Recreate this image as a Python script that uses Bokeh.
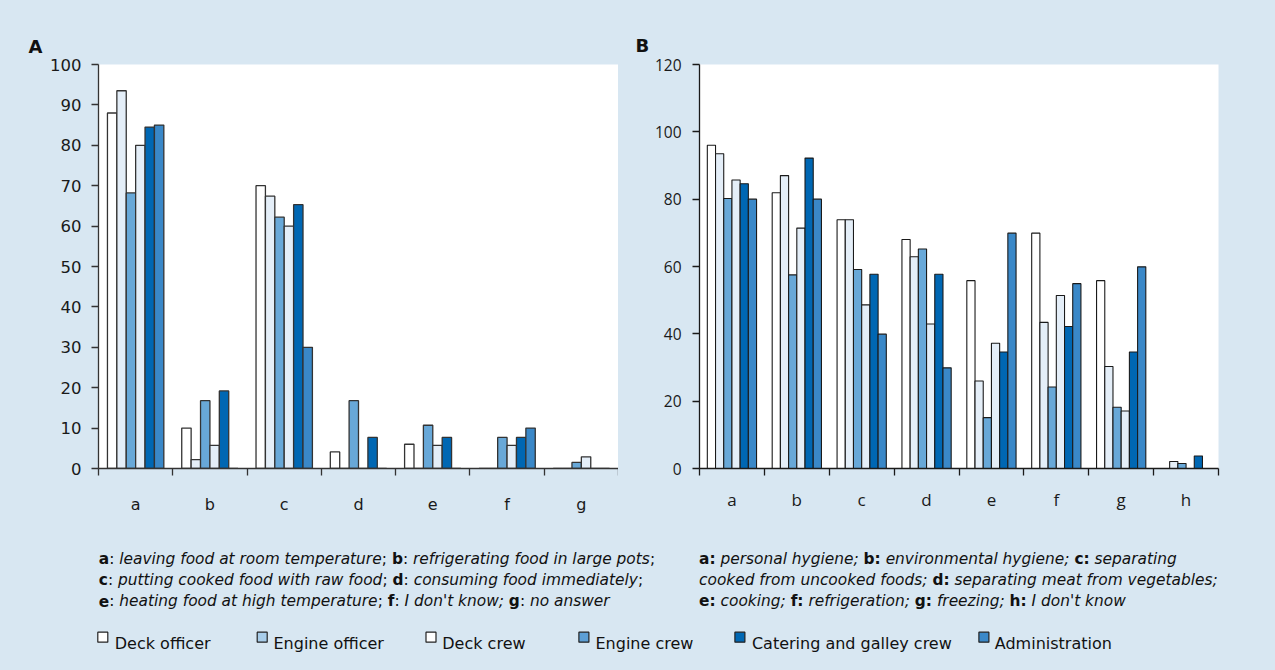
import glob
from bokeh.plotting import figure
from bokeh.layouts import row, column
from bokeh.models import ColumnDataSource, Range1d, FixedTicker
from bokeh.transform import dodge
from bokeh.core.properties import value
from bokeh.embed import file_html
from bokeh.resources import INLINE

# ---------------- data ----------------
series_names = ["Deck officer", "Engine officer", "Deck crew", "Engine crew",
                "Catering and galley crew", "Administration"]

cats_A = ["a", "b", "c", "d", "e", "f", "g"]
deck_officer_A = [88, 10, 70, 4.1, 6, 0, 0]
engine_officer_A = [93.5, 2.2, 67.4, 0, 0, 0, 0]
deck_crew_A = [68.2, 16.8, 62.2, 16.8, 10.7, 7.7, 1.5]
engine_crew_A = [80, 5.7, 60, 0, 5.7, 5.7, 2.9]
catering_A = [84.5, 19.2, 65.3, 7.7, 7.7, 7.7, 0]
admin_A = [85, 0, 30, 0, 0, 10, 0]

cats_B = ["a", "b", "c", "d", "e", "f", "g", "h"]
deck_officer_B = [96, 81.9, 73.9, 68, 55.8, 69.9, 55.8, 0]
engine_officer_B = [93.5, 87, 73.9, 62.9, 26, 43.4, 30.3, 2.1]
deck_crew_B = [80.2, 57.5, 59.1, 65.2, 15.1, 24.2, 18.2, 1.5]
engine_crew_B = [85.7, 71.4, 48.6, 42.9, 37.2, 51.4, 17.1, 0]
catering_B = [84.6, 92.2, 57.7, 57.7, 34.6, 42.2, 34.6, 3.7]
admin_B = [80, 80, 39.9, 29.9, 69.9, 54.9, 59.9, 0]

yticks_A = [0, 10, 20, 30, 40, 50, 60, 70, 80, 90, 100]
yticks_B = [0, 20, 40, 60, 80, 100, 120]

caption_A = [
    [("a", "bold"), (": ", "normal"), ("leaving food at room temperature", "italic"), ("; ", "normal"),
     ("b", "bold"), (": ", "normal"), ("refrigerating food in large pots", "italic"), (";", "normal")],
    [("c", "bold"), (": ", "normal"), ("putting cooked food with raw food", "italic"), ("; ", "normal"),
     ("d", "bold"), (": ", "normal"), ("consuming food immediately", "italic"), (";", "normal")],
    [("e", "bold"), (": ", "normal"), ("heating food at high temperature", "italic"), ("; ", "normal"),
     ("f", "bold"), (": ", "normal"), ("I don't know;", "italic"), (" ", "normal"),
     ("g", "bold"), (": ", "normal"), ("no answer", "italic")],
]
caption_B = [
    [("a:", "bold"), (" personal hygiene; ", "italic"), ("b:", "bold"), (" environmental hygiene; ", "italic"),
     ("c:", "bold"), (" separating", "italic")],
    [("cooked from uncooked foods; ", "italic"), ("d:", "bold"), (" separating meat from vegetables;", "italic")],
    [("e:", "bold"), (" cooking; ", "italic"), ("f:", "bold"), (" refrigeration; ", "italic"),
     ("g:", "bold"), (" freezing; ", "italic"), ("h:", "bold"), (" I don't know", "italic")],
]

# ---------------- style ----------------
BG = "#d8e7f2"
bar_colors = ["#ffffff", "#e4eef8", "#68a8d8", "#e4eef8", "#0067b3", "#3a88c8"]
legend_colors = ["#ffffff", "#a8cdea", "#ffffff", "#5d9fd5", "#0067b3", "#3a88c8"]
BW = 0.1265


def panel(cats, vals, yticks, width, bl, br, bt, bb, height, tick_font, tick_size,
          xlab_size, x_standoff, y_standoff, edge, edge_w, letter, letter_offset, letter_standoff):
    n = len(cats)
    p = figure(width=width, height=height, output_backend="svg", toolbar_location=None,
               x_range=Range1d(-0.5, n - 0.5), y_range=Range1d(yticks[0], yticks[-1]),
               min_border_left=bl, min_border_right=br, min_border_top=bt, min_border_bottom=bb,
               background_fill_color="white", border_fill_color=BG, outline_line_color=None,
               styles={"background-color": BG})
    p.grid.visible = False
    p.title.text = letter
    p.title.text_font = "DejaVu Sans"
    p.title.text_font_style = "bold"
    p.title.text_font_size = "18px"
    p.title.text_color = "#111111"
    p.title.align = "left"
    p.title.offset = letter_offset
    p.title.standoff = letter_standoff
    data = {"x": list(range(n))}
    for k, v in enumerate(vals):
        data["s%d" % k] = v
    src = ColumnDataSource(data)
    for k in range(len(vals)):
        p.vbar(x=dodge("x", (k - 2.5) * BW, range=p.x_range), top="s%d" % k, width=BW,
               source=src, fill_color=bar_colors[k], line_color=edge, line_width=edge_w)
    xa = p.xaxis[0]
    xa.ticker = FixedTicker(ticks=list(range(n)), minor_ticks=[i - 0.5 for i in range(n + 1)])
    xa.major_label_overrides = {i: c for i, c in enumerate(cats)}
    xa.major_tick_out = 0
    xa.major_tick_in = 0
    xa.minor_tick_out = 7
    xa.minor_tick_in = 0
    xa.minor_tick_line_color = edge
    xa.minor_tick_line_width = 1.3
    xa.major_label_standoff = x_standoff
    xa.major_label_text_font = tick_font
    xa.major_label_text_font_size = xlab_size
    ya = p.yaxis[0]
    ya.ticker = FixedTicker(ticks=yticks)
    ya.major_tick_out = 7
    ya.major_tick_in = 0
    ya.minor_tick_line_color = None
    ya.major_label_standoff = y_standoff
    ya.major_label_text_font = tick_font
    ya.major_label_text_font_size = tick_size
    for ax in (xa, ya):
        ax.axis_line_color = edge
        ax.axis_line_width = 1.3
        ax.major_tick_line_color = edge
        ax.major_tick_line_width = 1.3
        ax.major_label_text_color = "#1a1a1a"
    return p


pA = panel(cats_A, [deck_officer_A, engine_officer_A, deck_crew_A, engine_crew_A, catering_A, admin_A],
           yticks_A, 618, 98, 0, 61, 72, 540, "DejaVu Sans", "16.5px", "16px", 19, 10,
           "#333333", 1.3, "A", -70, 16)
pB = panel(cats_B, [deck_officer_B, engine_officer_B, deck_crew_B, engine_crew_B, catering_B, admin_B],
           yticks_B, 657, 81, 57, 64, 68, 540, "Open Sans", "15.5px", "17px", 12, 11,
           "#1a1a1a", 1.1, "B", -64, 18)

# ---------------- bottom: captions + legend ----------------
pBot = figure(width=1275, height=130, output_backend="svg", toolbar_location=None,
              x_range=Range1d(0, 1275), y_range=Range1d(670, 540),
              min_border=0, x_axis_location=None, y_axis_location=None,
              background_fill_color=BG, border_fill_color=BG, outline_line_color=None,
              styles={"background-color": BG})
pBot.grid.visible = False

CAP_SIZE = 15.4
font_files = {}
try:
    from PIL import ImageFont
    cand = {"normal": "DejaVuSans.ttf", "bold": "DejaVuSans-Bold.ttf", "italic": "DejaVuSans-Oblique.ttf"}
    for st, fn in cand.items():
        hits = glob.glob("/usr/share/fonts/**/" + fn, recursive=True) + \
            glob.glob("/usr/local/share/fonts/**/" + fn, recursive=True)
        if hits:
            font_files[st] = ImageFont.truetype(hits[0], 100)
except Exception:
    font_files = {}


def text_w(t, st):
    if not t:
        return 0.0
    f = font_files.get(st)
    if f is not None:
        return f.getlength(t) * CAP_SIZE / 100.0
    return len(t) * CAP_SIZE * (0.6 if st == "bold" else 0.56)


segs = {"normal": {"x": [], "y": [], "t": []}, "bold": {"x": [], "y": [], "t": []},
        "italic": {"x": [], "y": [], "t": []}}
for lines, x0 in ((caption_A, 98.3), (caption_B, 698.5)):
    for li, line in enumerate(lines):
        x = x0
        yb = 558 + 21 * li
        for t, st in line:
            stripped = t.strip()
            if stripped:
                lead = t[:len(t) - len(t.lstrip())]
                segs[st]["x"].append(x + text_w(lead, st))
                segs[st]["y"].append(yb)
                segs[st]["t"].append(stripped)
            x += text_w(t, st)
for st, d in segs.items():
    pBot.text(x="x", y="y", text="t", source=ColumnDataSource(d), text_font=value("DejaVu Sans"),
              text_font_size="%gpx" % CAP_SIZE, text_font_style=st, text_color="#111111",
              text_baseline="alphabetic", text_align="left")

leg_sw_x = [102.3, 261.7, 430.5, 583.4, 739.4, 983.4]
leg_tx_x = [114.3, 273.0, 441.8, 595.0, 751.4, 994.3]
pBot.scatter(x=leg_sw_x, y=[636.7] * 6, marker="square", size=10, fill_color=legend_colors,
             line_color="#222222", line_width=1.2)
pBot.text(x=leg_tx_x, y=[643] * 6, text=series_names, text_font=value("DejaVu Sans"),
          text_font_size="16px", text_color="#111111", text_baseline="alphabetic", text_align="left")

layout = column(row(pA, pB, spacing=0, styles={"background-color": BG}), pBot, spacing=0,
                styles={"background-color": BG})
open("out.html", "w").write(file_html(layout, INLINE))
